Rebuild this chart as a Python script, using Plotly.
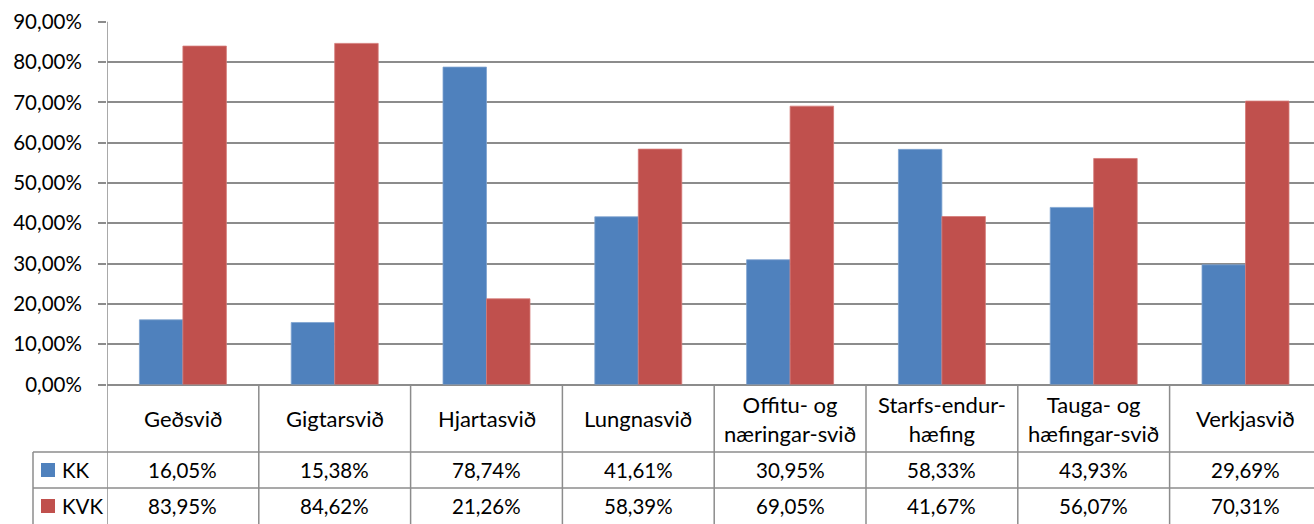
import plotly.graph_objects as go

categories = ["Geðsvið", "Gigtarsvið", "Hjartasvið", "Lungnasvið",
              "Offitu- og næringar-svið", "Starfs-endur-hæfing",
              "Tauga- og hæfingar-svið", "Verkjasvið"]
header_labels = ["Geðsvið", "Gigtarsvið", "Hjartasvið", "Lungnasvið",
                 "Offitu- og<br>næringar-svið", "Starfs-endur-<br>hæfing",
                 "Tauga- og<br>hæfingar-svið", "Verkjasvið"]
kk = [16.05, 15.38, 78.74, 41.61, 30.95, 58.33, 43.93, 29.69]
kvk = [83.95, 84.62, 21.26, 58.39, 69.05, 41.67, 56.07, 70.31]
series_names = ["KK", "KVK"]
y_ticks = [0, 0.1, 0.2, 0.3, 0.4, 0.5, 0.6, 0.7, 0.8, 0.9]

W, H = 1314, 524
BLUE, RED = "#4F81BD", "#C0504D"
BLUE_EDGE, RED_EDGE = "#7FA3D0", "#D47A77"
GRID = "#8C8C8C"
FONT = "Lato"
FS = 20.5
FS_HEAD = 22

def py(p):
    return 1 - p / H

def px(p):
    return p / W

x_left = 107
cat_w = 151.8
n_vis = (W - x_left) / cat_w
y0_px, y90_px = 384.5, 21.7

fig = go.Figure()
fig.add_trace(go.Bar(x=categories, y=[v / 100 for v in kk], name="KK",
                     marker=dict(color=BLUE, line=dict(color=BLUE_EDGE, width=0.8))))
fig.add_trace(go.Bar(x=categories, y=[v / 100 for v in kvk], name="KVK",
                     marker=dict(color=RED, line=dict(color=RED_EDGE, width=0.8))))

shapes = []
line_style = dict(color=GRID, width=1.5)
shapes.append(dict(type="line", xref="x", yref="paper", x0=-0.5, x1=-0.5,
                   y0=py(y90_px), y1=0, line=line_style))
for i in range(1, len(categories)):
    shapes.append(dict(type="line", xref="x", yref="paper", x0=i - 0.5, x1=i - 0.5,
                       y0=py(y0_px), y1=0, line=line_style))
for yy in (452, 488):
    shapes.append(dict(type="line", xref="paper", yref="paper", x0=px(33), x1=1,
                       y0=py(yy), y1=py(yy), line=line_style))
shapes.append(dict(type="line", xref="paper", yref="paper", x0=px(33), x1=px(33),
                   y0=py(452), y1=0, line=line_style))

annotations = []
for i, lab in enumerate(header_labels):
    annotations.append(dict(x=i, y=py(418.5), xref="x", yref="paper", text=lab,
                            showarrow=False, xanchor="center", yanchor="middle",
                            font=dict(family=FONT, size=FS_HEAD, color="#000")))
row_centers = [470, 506]
colors = [BLUE, RED]
for r, (name, vals) in enumerate(zip(series_names, [kk, kvk])):
    yc = row_centers[r]
    for i, v in enumerate(vals):
        annotations.append(dict(x=i, y=py(yc), xref="x", yref="paper",
                                text=f"{v:.2f}".replace(".", ",") + "%",
                                showarrow=False, xanchor="center", yanchor="middle",
                                font=dict(family=FONT, size=FS, color="#000")))
    shapes.append(dict(type="rect", xref="paper", yref="paper",
                       x0=px(41), x1=px(55), y0=py(yc + 7), y1=py(yc - 7),
                       fillcolor=colors[r], line=dict(width=0)))
    annotations.append(dict(x=px(60), y=py(yc), xref="paper", yref="paper", text=name,
                            showarrow=False, xanchor="left", yanchor="middle",
                            font=dict(family=FONT, size=FS, color="#000")))

fig.update_layout(
    width=W, height=H,
    margin=dict(l=0, r=0, t=0, b=0, autoexpand=False),
    paper_bgcolor="white", plot_bgcolor="white",
    separators=",.",
    barmode="group", bargap=0.427, bargroupgap=0,
    showlegend=False,
    font=dict(family=FONT, size=FS, color="#000"),
    xaxis=dict(domain=[px(x_left), 1], range=[-0.5, -0.5 + n_vis],
               showticklabels=False, showgrid=False, ticks="", showline=False,
               zeroline=False),
    yaxis=dict(domain=[py(y0_px), py(y90_px)], range=[0, 0.9],
               tickvals=y_ticks, tickformat=".2%", showgrid=True,
               gridcolor=GRID, gridwidth=1.5, zeroline=True, zerolinecolor=GRID,
               zerolinewidth=1.5, ticks="outside", ticklen=8, tickcolor=GRID,
               tickwidth=1.5, showline=False, ticklabelstandoff=12,
               tickfont=dict(family=FONT, size=FS, color="#000"), automargin=False),
    shapes=shapes, annotations=annotations,
)
fig.write_html("out.html", config={"displayModeBar": False},
               post_script="document.body.style.margin='0';document.body.style.overflow='hidden';")
